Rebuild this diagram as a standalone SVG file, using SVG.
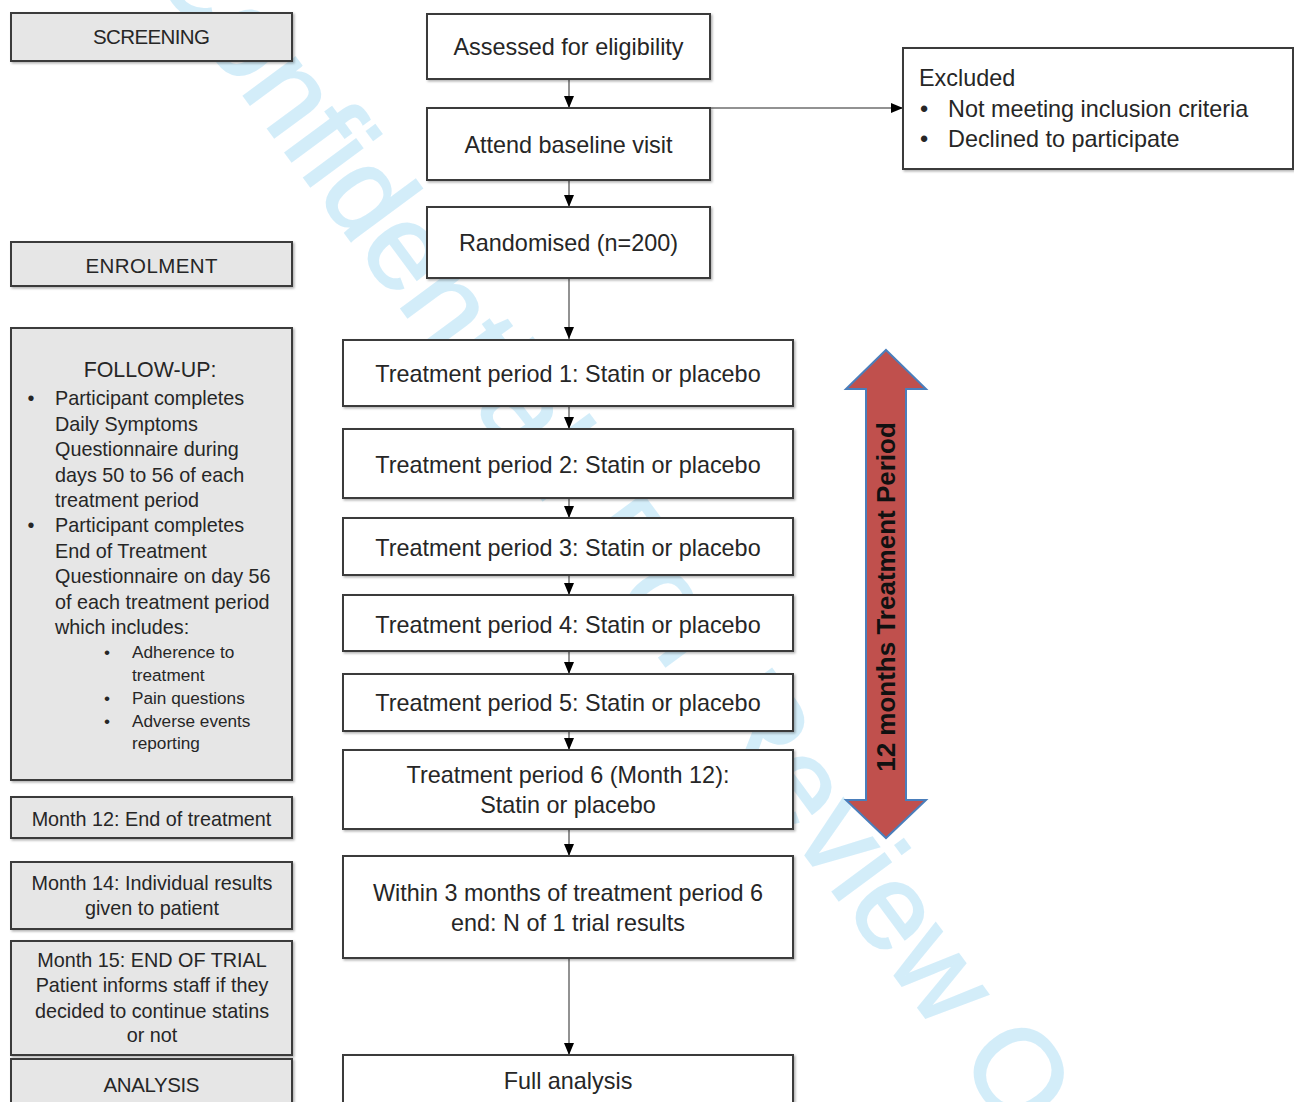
<svg xmlns="http://www.w3.org/2000/svg" width="1294" height="1102" viewBox="0 0 1294 1102">
<defs>
<style>
text { font-family: "Liberation Sans", Arial, sans-serif; fill: #262626; }
.box { fill: #ffffff; stroke: #3a3a3a; stroke-width: 2; filter: url(#sh); }
.gbox { fill: #e6e6e6; stroke: #3a3a3a; stroke-width: 2; filter: url(#sh); }
.m { font-size: 23.4px; text-anchor: middle; }
.ex { font-size: 23.4px; }
.h { font-size: 20.5px; text-anchor: middle; }
.s { font-size: 19.8px; }
.sc { font-size: 19.8px; text-anchor: middle; }
.ss { font-size: 17.2px; }
.bc { text-anchor: middle; }
.conn { stroke: #6e6e6e; stroke-width: 1.5; fill: none; marker-end: url(#ah); }
.wm { font-size: 122px; fill: #2aa8e6; stroke: #2aa8e6; stroke-width: 2; opacity: 0.2; }
.big { fill: #c0504d; stroke: #4a7ebb; stroke-width: 2; stroke-linejoin: miter; }
.bt { font-size: 26px; font-weight: bold; fill: #111; text-anchor: middle; }
</style>
<marker id="ah" markerUnits="userSpaceOnUse" markerWidth="12" markerHeight="10" refX="12" refY="5" orient="auto">
<path d="M0,0 L12,5 L0,10 z" fill="#000"/>
</marker>
<filter id="sh" x="-5%" y="-5%" width="110%" height="120%">
<feDropShadow dx="1.5" dy="1.5" stdDeviation="0.8" flood-color="#000" flood-opacity="0.3"/>
</filter>
</defs>

<g id="watermark">
<text class="wm" transform="translate(146,-36) rotate(53.5)">Confidential: For Review Only</text>
</g>

<g id="connectors">
<line class="conn" x1="569" y1="80" x2="569" y2="108"/>
<line class="conn" x1="569" y1="181" x2="569" y2="207"/>
<line class="conn" x1="569" y1="279" x2="569" y2="339"/>
<line class="conn" x1="569" y1="407" x2="569" y2="429"/>
<line class="conn" x1="569" y1="499" x2="569" y2="518"/>
<line class="conn" x1="569" y1="576" x2="569" y2="595"/>
<line class="conn" x1="569" y1="652" x2="569" y2="674"/>
<line class="conn" x1="569" y1="731" x2="569" y2="750"/>
<line class="conn" x1="569" y1="830" x2="569" y2="856"/>
<line class="conn" x1="569" y1="958" x2="569" y2="1055"/>
<line class="conn" x1="710" y1="108" x2="903" y2="108"/>
</g>

<g id="screening">
<rect class="gbox" x="11" y="13" width="281" height="48"/>
<text class="h" x="151.5" y="44.3" textLength="117">SCREENING</text>
</g>
<g id="enrolment">
<rect class="gbox" x="11" y="242" width="281" height="44"/>
<text class="h" x="151.5" y="272.5" textLength="132">ENROLMENT</text>
</g>
<g id="follow-up">
<rect class="gbox" x="11" y="328" width="281" height="452"/>
<text x="150" y="377" style="font-size:21.4px;text-anchor:middle">FOLLOW-UP:</text>
<text class="s bc" x="31" y="405">•</text>
<text class="s" x="55" y="405">Participant completes</text>
<text class="s" x="55" y="431">Daily Symptoms</text>
<text class="s" x="55" y="456">Questionnaire during</text>
<text class="s" x="55" y="482">days 50 to 56 of each</text>
<text class="s" x="55" y="507">treatment period</text>
<text class="s bc" x="31" y="532">•</text>
<text class="s" x="55" y="532">Participant completes</text>
<text class="s" x="55" y="558">End of Treatment</text>
<text class="s" x="55" y="583">Questionnaire on day 56</text>
<text class="s" x="55" y="609">of each treatment period</text>
<text class="s" x="55" y="634">which includes:</text>
<text class="ss bc" x="107" y="658">•</text>
<text class="ss" x="132" y="658">Adherence to</text>
<text class="ss" x="132" y="681">treatment</text>
<text class="ss bc" x="107" y="704">•</text>
<text class="ss" x="132" y="704">Pain questions</text>
<text class="ss bc" x="107" y="727">•</text>
<text class="ss" x="132" y="727">Adverse events</text>
<text class="ss" x="132" y="749">reporting</text>
</g>
<g id="month12">
<rect class="gbox" x="11" y="797" width="281" height="41"/>
<text class="sc" x="151.5" y="825.5">Month 12: End of treatment</text>
</g>
<g id="month14">
<rect class="gbox" x="11" y="862" width="281" height="67"/>
<text class="sc" x="152" y="890">Month 14: Individual results</text>
<text class="sc" x="152" y="915">given to patient</text>
</g>
<g id="month15">
<rect class="gbox" x="11" y="941" width="281" height="114"/>
<text class="sc" x="152" y="967">Month 15: END OF TRIAL</text>
<text class="sc" x="152" y="992">Patient informs staff if they</text>
<text class="sc" x="152" y="1018">decided to continue statins</text>
<text class="sc" x="152" y="1042">or not</text>
</g>
<g id="analysis">
<rect class="gbox" x="11" y="1059" width="281" height="50"/>
<text class="h" x="151.5" y="1092" textLength="96">ANALYSIS</text>
</g>

<g id="assessed">
<rect class="box" x="427" y="14" width="283" height="65"/>
<text class="m" x="568.5" y="55">Assessed for eligibility</text>
</g>
<g id="baseline">
<rect class="box" x="427" y="108" width="283" height="72"/>
<text class="m" x="568.5" y="153">Attend baseline visit</text>
</g>
<g id="randomised">
<rect class="box" x="427" y="207" width="283" height="71"/>
<text class="m" x="568.5" y="251">Randomised (n=200)</text>
</g>
<g id="excluded">
<rect class="box" x="903" y="48" width="390" height="121"/>
<text class="ex" x="919" y="86">Excluded</text>
<text class="ex bc" x="924" y="117">•</text>
<text class="ex" x="948" y="117">Not meeting inclusion criteria</text>
<text class="ex bc" x="924" y="147">•</text>
<text class="ex" x="948" y="147">Declined to participate</text>
</g>
<g id="tp1">
<rect class="box" x="343" y="340" width="450" height="66"/>
<text class="m" x="568" y="381.5">Treatment period 1: Statin or placebo</text>
</g>
<g id="tp2">
<rect class="box" x="343" y="429" width="450" height="69"/>
<text class="m" x="568" y="473">Treatment period 2: Statin or placebo</text>
</g>
<g id="tp3">
<rect class="box" x="343" y="518" width="450" height="57"/>
<text class="m" x="568" y="555.5">Treatment period 3: Statin or placebo</text>
</g>
<g id="tp4">
<rect class="box" x="343" y="595" width="450" height="56"/>
<text class="m" x="568" y="632.5">Treatment period 4: Statin or placebo</text>
</g>
<g id="tp5">
<rect class="box" x="343" y="674" width="450" height="57"/>
<text class="m" x="568" y="710.5">Treatment period 5: Statin or placebo</text>
</g>
<g id="tp6">
<rect class="box" x="343" y="750" width="450" height="79"/>
<text class="m" x="568" y="783">Treatment period 6 (Month 12):</text>
<text class="m" x="568" y="813">Statin or placebo</text>
</g>
<g id="within">
<rect class="box" x="343" y="856" width="450" height="102"/>
<text class="m" x="568" y="901">Within 3 months of treatment period 6</text>
<text class="m" x="568" y="931">end: N of 1 trial results</text>
</g>
<g id="full-analysis">
<rect class="box" x="343" y="1055" width="450" height="55"/>
<text class="m" x="568" y="1089">Full analysis</text>
</g>

<g id="treatment-period-arrow">
<polygon class="big" points="886,350 926,389 906,389 906,800 926,800 886,838 846,800 866,800 866,389 846,389"/>
<text class="bt" transform="translate(895,597) rotate(-90)" x="0" y="0">12 months Treatment Period</text>
</g>
</svg>
